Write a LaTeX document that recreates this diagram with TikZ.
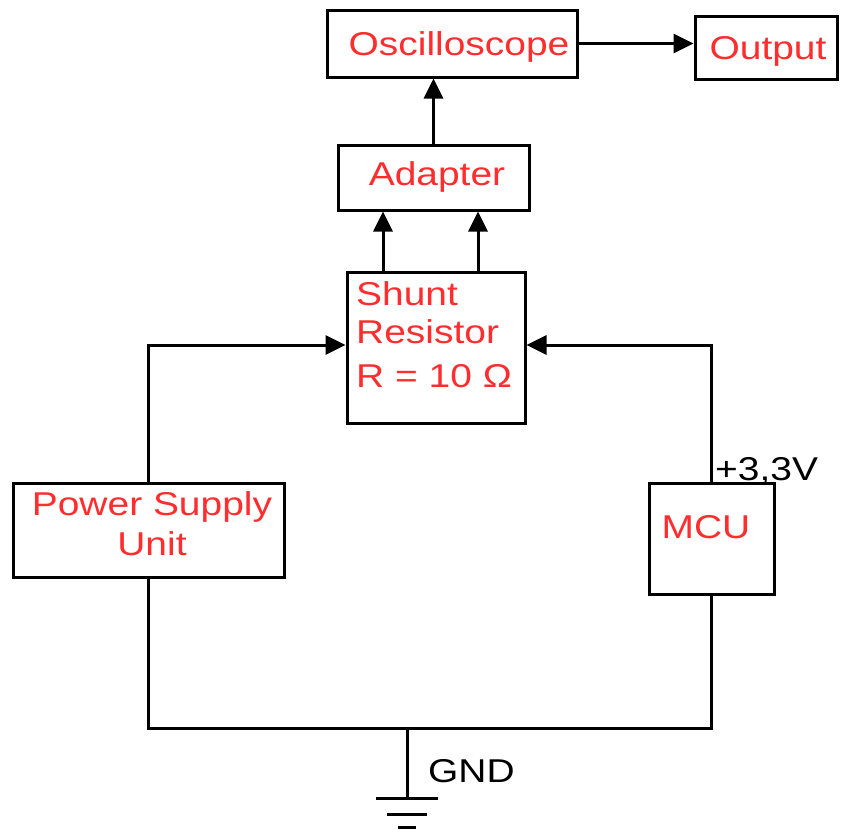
\documentclass[tikz,border=0pt]{standalone}
\usepackage{fontspec}
\setmainfont{Liberation Sans}
\newfontfamily\labfont[FakeStretch=1.18]{Liberation Sans}
\usetikzlibrary{arrows.meta}
\definecolor{labred}{RGB}{255,45,45}
\begin{document}
\begin{tikzpicture}[x=1pt,y=-1pt,
  box/.style={draw,line width=3pt,inner sep=0pt,rectangle},
  lab/.style={font=\labfont\fontsize{33}{40}\selectfont,text=labred,inner sep=0pt},
  blab/.style={font=\labfont\fontsize{33}{40}\selectfont,text=black,inner sep=0pt},
  wire/.style={line width=3pt},
  arr/.style={line width=3pt,-{Triangle[length=20pt,width=19pt]}}]
\useasboundingbox (0,0) rectangle (841,839);
% boxes
\node[box,minimum width=250pt,minimum height=67pt] (osc) at (452,43.5) {};
\node[box,minimum width=142pt,minimum height=63pt] (out) at (766,47.5) {};
\node[box,minimum width=191pt,minimum height=65pt] (adp) at (433.5,177.5) {};
\node[box,minimum width=178pt,minimum height=151pt] (shunt) at (436,347.5) {};
\node[box,minimum width=271pt,minimum height=94pt] (psu) at (148.5,530) {};
\node[box,minimum width=125pt,minimum height=111pt] (mcu) at (711.5,538.5) {};
% labels
\node[lab,anchor=base] (toscl) at (459,55) {Oscilloscope};
\node[lab,anchor=base] (toutl) at (768,59) {Output};
\node[lab,anchor=base] (tadpl) at (437,185) {Adapter};
\node[lab,anchor=base west] (tsh1) at (356,305) {Shunt};
\node[lab,anchor=base west] (tsh2) at (356,343) {Resistor};
\node[lab,anchor=base west] (tsh3) at (356,387) {R = 10 Ω};
\node[lab,anchor=base] (tpsu1) at (152,515) {Power Supply};
\node[lab,anchor=base] (tpsu2) at (152,555) {Unit};
\node[lab,anchor=base] (tmcu) at (706,538) {MCU};
\node[blab,anchor=base west] (tvolt) at (715,480) {+3,3V};
\node[blab,anchor=base west] (tgnd) at (428,782) {GND};
% connectors
\draw[arr] (osc.east) -- (osc.east -| out.west);
\draw[arr] (adp.north) -- (adp.north |- osc.south);
\coordinate (s1) at (383,347.5);
\coordinate (s2) at (478,347.5);
\draw[arr] (s1 |- shunt.north) -- (s1 |- adp.south);
\draw[arr] (s2 |- shunt.north) -- (s2 |- adp.south);
\draw[arr] (psu.north) |- ([yshift=2.5pt]shunt.west);
\draw[arr] (mcu.north) |- ([yshift=2.5pt]shunt.east);
\coordinate (gnd) at (407,728);
\draw[wire] (psu.south) |- (gnd) -| (mcu.south);
% ground symbol
\coordinate (g0) at (407,798);
\draw[wire] (gnd) -- (g0);
\draw[wire] ([xshift=-31pt]g0) -- ([xshift=31pt]g0);
\draw[wire] ([xshift=-20pt,yshift=-16pt]g0) -- ([xshift=20pt,yshift=-16pt]g0);
\draw[wire] ([xshift=-9pt,yshift=-29pt]g0) -- ([xshift=9pt,yshift=-29pt]g0);
\end{tikzpicture}
\end{document}
